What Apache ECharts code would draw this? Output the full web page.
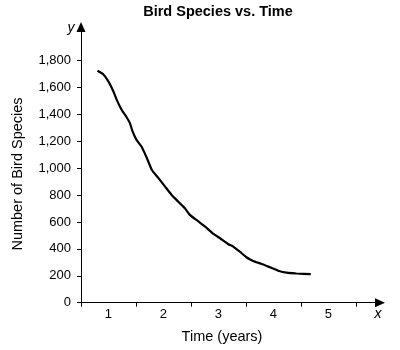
<!DOCTYPE html>
<html>
<head>
<meta charset="utf-8">
<script src="https://cdn.jsdelivr.net/npm/echarts@6/dist/echarts.min.js"></script>
<style>
  html, body { margin: 0; padding: 0; background: #fff; }
  #chart { width: 400px; height: 350px; }
</style>
</head>
<body>
<div id="chart"></div>
<script>
// Time (years) and number of bird species along the decline curve
const years = [0.80, 0.90, 1.00, 1.09, 1.15, 1.24, 1.33, 1.39, 1.44, 1.51, 1.60, 1.70, 1.79, 1.91,
  2.03, 2.15, 2.27, 2.39, 2.48, 2.60, 2.76, 2.91, 3.03, 3.18, 3.27, 3.39, 3.51, 3.63, 3.79,
  3.94, 4.09, 4.24, 4.42, 4.68];
const species = [1725, 1700, 1644, 1570, 1508, 1434, 1379, 1335, 1272, 1211, 1161, 1074, 987, 926,
  863, 801, 751, 702, 653, 615, 565, 511, 479, 435, 417, 379, 338, 310, 288,
  263, 238, 223, 217, 212];

const yTickValues = [0, 200, 400, 600, 800, 1000, 1200, 1400, 1600, 1800];
const xLabelValues = [1, 2, 3, 4, 5];
const xTickValues = [0.5, 1.5, 2.5, 3.5, 4.5, 5.5];

const FONT = '"Liberation Sans", Arial, sans-serif';
const INK = '#000';

const chart = echarts.init(document.getElementById('chart'), null, { renderer: 'canvas' });

chart.setOption({
  backgroundColor: '#fff',
  animation: false,
  title: {
    text: 'Bird Species vs. Time',
    left: 218,
    top: 4,
    padding: 0,
    textAlign: 'center',
    textStyle: { fontFamily: FONT, fontSize: 14.5, fontWeight: 'bold', color: INK }
  },
  grid: { left: 81, right: 20, top: 27, bottom: 47.3, containLabel: false },
  xAxis: {
    type: 'value',
    min: 0.5,
    max: 5.94,
    axisLine: {
      show: true,
      onZero: false,
      symbol: ['none', 'triangle'],
      symbolSize: [9, 10],
      lineStyle: { color: INK, width: 1 }
    },
    axisTick: {
      show: true,
      customValues: xTickValues,
      length: 4,
      lineStyle: { color: INK, width: 1 }
    },
    axisLabel: {
      customValues: xLabelValues,
      margin: 5,
      fontFamily: FONT,
      fontSize: 13,
      color: INK
    },
    splitLine: { show: false }
  },
  yAxis: {
    type: 'value',
    min: 0,
    max: 2050,
    axisLine: {
      show: true,
      onZero: false,
      symbol: ['none', 'triangle'],
      symbolSize: [9, 10],
      lineStyle: { color: INK, width: 1 }
    },
    axisTick: {
      show: true,
      customValues: yTickValues,
      length: 4,
      lineStyle: { color: INK, width: 1 }
    },
    axisLabel: {
      customValues: yTickValues,
      margin: 10,
      fontFamily: FONT,
      fontSize: 13,
      color: INK,
      formatter: v => v.toLocaleString('en-US')
    },
    splitLine: { show: false }
  },
  graphic: [
    {
      type: 'text',
      x: 18, y: 174,
      rotation: Math.PI / 2,
      style: {
        text: 'Number of Bird Species',
        font: '14.5px ' + FONT,
        fill: INK,
        align: 'center',
        verticalAlign: 'middle'
      }
    },
    {
      type: 'text',
      x: 222, y: 337,
      style: {
        text: 'Time (years)',
        font: '14.5px ' + FONT,
        fill: INK,
        align: 'center',
        verticalAlign: 'middle'
      }
    },
    {
      type: 'text',
      x: 71, y: 28,
      style: {
        text: 'y',
        font: 'italic 14px ' + FONT,
        fill: INK,
        align: 'center',
        verticalAlign: 'middle'
      }
    },
    {
      type: 'text',
      x: 378, y: 314,
      style: {
        text: 'x',
        font: 'italic 14px ' + FONT,
        fill: INK,
        align: 'center',
        verticalAlign: 'middle'
      }
    }
  ],
  series: [
    {
      type: 'line',
      data: years.map((t, i) => [t, species[i]]),
      showSymbol: false,
      smooth: 0.15,
      lineStyle: { color: INK, width: 2.2 }
    }
  ]
});
</script>
</body>
</html>
